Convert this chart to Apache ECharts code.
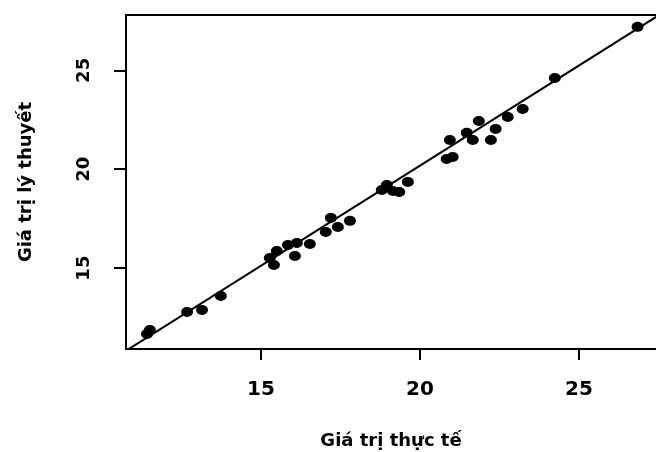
<!DOCTYPE html>
<html>
<head>
<meta charset="utf-8">
<script src="https://cdn.jsdelivr.net/npm/echarts@6/dist/echarts.min.js"></script>
<style>html,body{margin:0;padding:0;background:#fff}#c{width:656px;height:452px}</style>
</head>
<body>
<div id="c"></div>
<script>
// Actual values (Giá trị thực tế)
const actual = [11.42, 11.51, 12.68, 13.15, 13.74, 15.28, 15.41, 15.50, 15.85, 16.07, 16.13, 16.54,
  17.04, 17.20, 17.42, 17.80, 18.80, 18.96, 19.15, 19.35, 19.62, 20.84, 21.03, 20.94, 21.47, 21.66,
  21.85, 22.23, 22.38, 22.76, 23.23, 24.24, 26.84];
// Theoretical values (Giá trị lý thuyết)
const theoretical = [11.67, 11.87, 12.78, 12.88, 13.59, 15.51, 15.16, 15.87, 16.17, 15.61, 16.27, 16.22,
  16.83, 17.54, 17.08, 17.39, 18.95, 19.20, 18.90, 18.85, 19.36, 20.52, 20.62, 21.48, 21.84, 21.48,
  22.44, 21.48, 22.04, 22.64, 23.05, 24.61, 27.20];
// Fitted line endpoints
const lineX = [10.70, 27.70];
const lineY = [10.76, 27.98];
const tickValues = [15, 20, 25];

const axisLineStyle = {color: '#000', width: 2};
const chart = echarts.init(document.getElementById('c'), null, {renderer: 'canvas'});
chart.setOption({
  animation: false,
  backgroundColor: '#fff',
  grid: {left: 126, top: 15, bottom: 103, right: 0, show: false, containLabel: false, outerBoundsMode: 'none'},
  xAxis: [{
    type: 'value', min: 10.76, max: 27.42,
    splitLine: {show: false},
    axisLine: {show: true, onZero: false, lineStyle: axisLineStyle},
    axisTick: {show: true, length: 11, lineStyle: axisLineStyle, customValues: tickValues},
    axisLabel: {customValues: tickValues, margin: 31, color: '#000', fontFamily: 'DejaVu Sans', fontWeight: 'bold', fontSize: 20},
    name: 'Giá trị thực tế', nameLocation: 'middle', nameGap: 83,
    nameTextStyle: {color: '#000', fontFamily: 'DejaVu Sans', fontWeight: 'bold', fontSize: 18}
  }, {
    type: 'value', position: 'top', min: 10.76, max: 27.42,
    splitLine: {show: false},
    axisLine: {show: true, onZero: false, lineStyle: axisLineStyle},
    axisTick: {show: false}, axisLabel: {show: false}
  }],
  yAxis: {
    type: 'value', min: 10.91, max: 27.80,
    splitLine: {show: false},
    axisLine: {show: true, onZero: false, lineStyle: axisLineStyle},
    axisTick: {show: true, length: 12, lineStyle: axisLineStyle, customValues: tickValues},
    axisLabel: {customValues: tickValues, rotate: 90, margin: 33, color: '#000', fontFamily: 'DejaVu Sans', fontWeight: 'bold', fontSize: 18},
    name: 'Giá trị lý thuyết', nameLocation: 'middle', nameGap: 91,
    nameTextStyle: {color: '#000', fontFamily: 'DejaVu Sans', fontWeight: 'bold', fontSize: 18}
  },
  series: [
    {
      type: 'line', data: lineX.map((x, i) => [x, lineY[i]]), symbol: 'none', clip: true,
      lineStyle: {color: '#000', width: 2}, z: 2
    },
    {
      type: 'scatter', data: actual.map((x, i) => [x, theoretical[i]]),
      symbol: 'circle', symbolSize: [12, 10], itemStyle: {color: '#000', opacity: 1}, z: 3
    }
  ]
});
</script>
</body>
</html>
